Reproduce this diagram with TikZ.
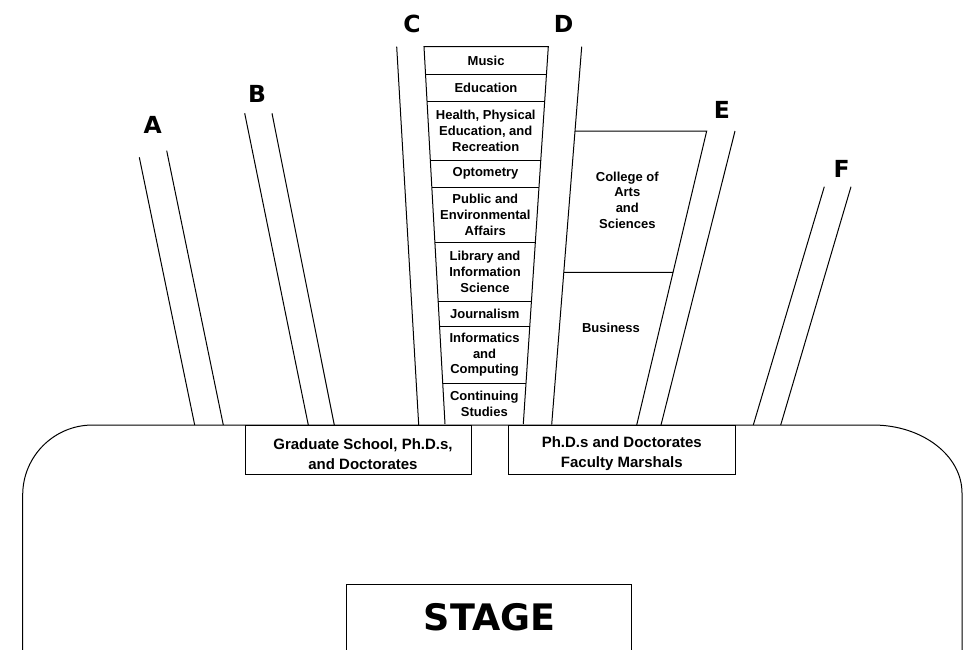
\documentclass[tikz,border=0pt]{standalone}
\usepackage{fontspec}
\setmainfont{Liberation Sans}
\newfontfamily\heavyfont{DejaVu Sans}
\usetikzlibrary{calc}

\begin{document}
\begin{tikzpicture}[
    x=1pt, y=-1pt,
    line width=1pt,
    every node/.style={inner sep=0pt, align=center},
    dept/.style={font=\bfseries\fontsize{13}{15.7}\selectfont},
    grouplabel/.style={font=\bfseries\fontsize{15}{20.5}\selectfont},
    aislelabel/.style={font=\heavyfont\bfseries\fontsize{23.5}{24}\selectfont},
    stagelabel/.style={font=\heavyfont\bfseries\fontsize{36.5}{37}\selectfont}
]
\useasboundingbox (0,0) rectangle (967,649);

% Hall outline
\draw (22.7,660) -- (22.7,495) .. controls (22.7,456.3) and (54,425) .. (92.7,425)
    -- (873,425) .. controls (922.2,425) and (962,455.4) .. (962,493) -- (962,660);

% Stage
\draw (346,660) -- (346,584.3) -- (631.7,584.3) -- (631.7,660);
\node[stagelabel] (stage) at (489.7,617.2) {STAGE};

% Seating blocks at the front
\draw (245,425.5) rectangle (471.3,474);
\node[grouplabel] (gradschool) at (363,454) {Graduate School, Ph.D.s,\\and Doctorates};
\draw (508.3,425.5) rectangle (735.3,474);
\node[grouplabel] (marshals) at (621.8,453.4) {Ph.D.s and Doctorates\\Faculty Marshals};

% Aisle lines
\foreach \xa/\ya/\xb in {139.3/157.3/194.7, 166.7/150.7/223.3, 244.7/113.3/308.3, 272/113.3/334.3,
    396.7/46.7/418.7, 735/131/661, 824.3/186.7/753.3, 851/186.7/780.7}
    \draw (\xa,\ya) -- (\xb,425);

% Aisle letters
\foreach \x/\y/\letter in {152.7/124.7/A, 257/94.3/B, 412/24/C, 563.7/24/D, 722/109.7/E, 841.7/168.8/F}
    \node[aislelabel] (aisle\letter) at (\x,\y) {\letter};

% Central column of schools
\coordinate (colTL) at (424,46.7);
\coordinate (colBL) at (445,424);
\coordinate (colTR) at (548.3,46.7);
\coordinate (colBR) at (523.3,424);
\draw (colBL) -- (colTL) -- (colTR) -- (colBR);
\foreach \y in {74,101.7,160.3,187.3,242.7,301,326,383.3}
    \draw ($(colTL)!{(\y-46.7)/377.3}!(colBL)$) -- ($(colTR)!{(\y-46.7)/377.3}!(colBR)$);

\foreach \y/\school [count=\i] in {60.4/Music, 87.9/Education,
    131/{Health, Physical\\Education, and\\Recreation}, 173.8/Optometry,
    215/{Public and\\Environmental\\Affairs}, 271.9/{Library and\\Information\\Science},
    313.5/Journalism, 354.7/{Informatics\\and\\Computing}, 403.7/{Continuing\\Studies}}
    \node[dept] (school\i) at ({486.2-2*(\y-46.7)/377.3},\y) {\school};

% Right block beside aisle D
\coordinate (dTop) at (581.7,46.7);
\coordinate (dBot) at (551.7,424.5);
\coordinate (eTop) at (706.7,131);
\coordinate (eBot) at (636.7,425);
\draw (dTop) -- (dBot);
\draw ($(dTop)!{(131-46.7)/377.8}!(dBot)$) -- (eTop) -- (eBot);
\draw ($(dTop)!{(272.3-46.7)/377.8}!(dBot)$) -- ($(eTop)!{(272.3-131)/294}!(eBot)$);
\node[dept] (arts) at (627.3,200) {College of\\Arts\\and\\Sciences};
\node[dept] (business) at (611,328.3) {Business};

\end{tikzpicture}
\end{document}
